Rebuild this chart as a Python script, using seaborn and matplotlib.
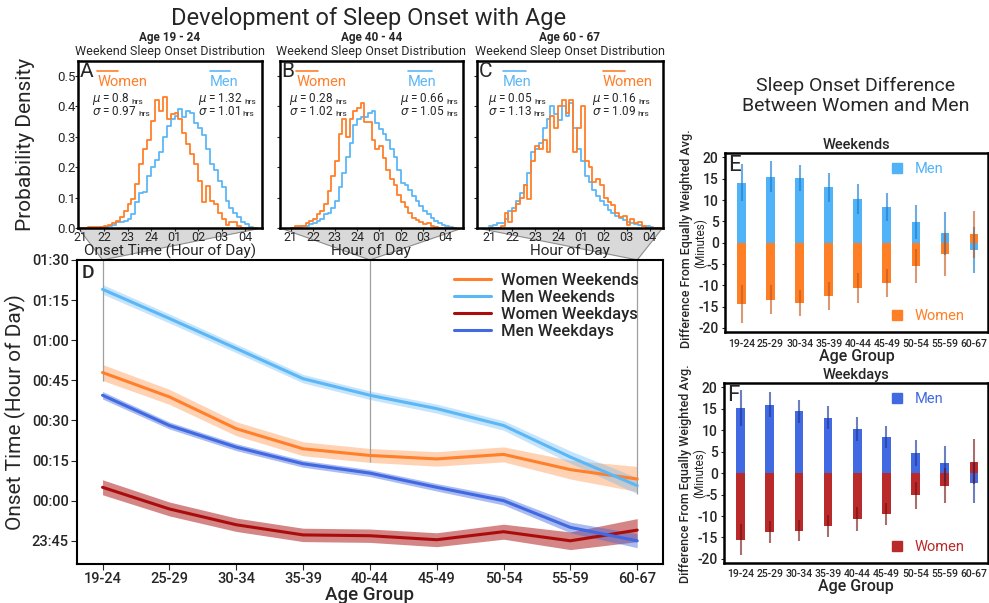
import numpy as np
import seaborn as sns
import matplotlib.pyplot as plt
from matplotlib.lines import Line2D
from matplotlib.patches import Polygon

sns.set_style("white")
plt.rcParams['font.family'] = ['Roboto', 'DejaVu Sans']
plt.rcParams['mathtext.fontset'] = 'dejavusans'

age_groups = ["19-24", "25-29", "30-34", "35-39", "40-44", "45-49", "50-54", "55-59", "60-67"]

# panel D: mean sleep onset (minutes after midnight) and CI half widths
women_weekends = [47.9, 38.8, 26.9, 19.4, 16.9, 15.6, 17.3, 11.6, 8.1]
men_weekends = [79.0, 68.1, 56.9, 45.6, 39.4, 34.4, 28.1, 16.3, 5.6]
women_weekdays = [5.0, -3.1, -9.0, -12.8, -13.1, -14.6, -11.6, -15.0, -11.0]
men_weekdays = [39.4, 28.1, 20.0, 13.8, 10.3, 5.0, 0.0, -10.0, -15.0]
women_weekends_ci = [3.0, 2.8, 2.6, 2.6, 2.6, 2.7, 2.8, 3.5, 4.7]
men_weekends_ci = [1.8, 1.7, 1.6, 1.6, 1.6, 1.7, 1.8, 2.3, 3.0]
women_weekdays_ci = [2.8, 2.6, 2.5, 2.5, 2.5, 2.6, 2.8, 3.3, 4.3]
men_weekdays_ci = [1.4, 1.3, 1.3, 1.3, 1.3, 1.4, 1.6, 2.0, 2.6]

# panels E/F: difference from equally weighted average (minutes)
men_diff_weekends = [14.1, 15.5, 15.2, 13.0, 10.2, 8.3, 4.8, 2.2, -1.7]
women_diff_weekends = [-14.4, -13.4, -14.1, -12.5, -10.7, -9.4, -5.4, -2.7, 2.0]
men_err_weekends = [4.4, 3.7, 3.1, 3.4, 3.5, 3.3, 4.0, 5.0, 5.5]
women_err_weekends = [4.4, 3.4, 3.1, 3.3, 3.5, 3.3, 4.0, 5.0, 5.5]
men_diff_weekdays = [15.2, 16.0, 14.4, 12.9, 10.3, 8.4, 4.7, 2.3, -2.3]
women_diff_weekdays = [-15.5, -13.7, -13.4, -12.3, -10.8, -9.5, -5.2, -2.9, 2.7]
men_err_weekdays = [4.2, 2.9, 2.6, 2.7, 2.9, 2.6, 3.1, 4.1, 4.7]
women_err_weekdays = [3.6, 2.5, 2.5, 2.6, 2.8, 2.6, 3.2, 4.1, 5.3]

# panels A-C: weekend onset densities, 10 minute bins from 21:00
women_19_24 = [0, 0, .002, .004, .003, .003, .005, .009, .015, .023,
               .037, .056, .078, .094, .144, .21, .26, .29, .353, .42,
               .386, .43, .36, .375, .38, .358, .314, .276, .243, .21,
               .155, .084, .138, .089, .078, .05, .03, .01, .018, .018,
               .006, 0, 0, 0, 0]
men_19_24 = [0, 0, 0, 0, .001, .002, .003, .005, .009, .018,
             .02, .023, .03, .045, .085, .115, .118, .17, .2, .224,
             .25, .3, .336, .36, .37, .39, .364, .386, .38, .347,
             .33, .305, .26, .21, .19, .155, .135, .09, .065, .05,
             .035, .018, .012, .004, 0]
women_40_44 = [0, .005, .006, .008, .015, .023, .03, .045, .055, .08,
               .12, .17, .22, .31, .36, .3, .36, .386, .395, .41,
               .35, .35, .29, .26, .27, .23, .19, .16, .14, .11,
               .085, .07, .05, .034, .025, .02, .012, .016, .008, .004,
               0, 0, 0, 0, 0]
men_40_44 = [0, 0, .002, .005, .008, .012, .016, .022, .03, .045,
             .05, .065, .09, .135, .18, .235, .28, .34, .36, .364,
             .364, .38, .386, .345, .325, .31, .29, .26, .235, .19,
             .148, .14, .125, .105, .089, .072, .056, .045, .034, .023,
             .016, .01, .006, .003, 0]
women_60_67 = [0, 0, 0, .005, .05, .02, .055, .08, .1, .14,
               .095, .22, .27, .26, .29, .25, .37, .33, .4, .42,
               .38, .42, .25, .33, .4, .22, .2, .15, .16, .14,
               .1, .085, .075, .05, .035, .04, .01, .03, .015, .018,
               .008, 0, 0, 0, 0]
men_60_67 = [.006, .01, .015, .015, .028, .055, .067, .09, .115, .14,
             .18, .25, .26, .28, .33, .36, .4, .375, .355, .4,
             .37, .41, .33, .26, .22, .17, .15, .125, .105, .09,
             .075, .06, .05, .04, .032, .025, .018, .015, .012, .01,
             .008, .005, .003, 0, 0]

hist_titles = ["Age 19 - 24", "Age 40 - 44", "Age 60 - 67"]
hist_group_idx = [0, 4, 8]
mu_women = [0.8, 0.28, 0.16]
sigma_women = [0.97, 1.02, 1.09]
mu_men = [1.32, 0.66, 0.05]
sigma_men = [1.01, 1.05, 1.13]

ORANGE = "#ff7f2a"
LIGHTBLUE = "#5cb7f7"
DARKRED = "#aa0c0c"
ROYAL = "#4169e1"

bin_edges = 21 + np.arange(len(women_19_24) + 1) / 6
bin_centers = (bin_edges[:-1] + bin_edges[1:]) / 2
hour_ticks = np.arange(21, 29)
hour_labels = [f"{h if h <= 24 else h - 24:02d}" for h in hour_ticks]

fig = plt.figure(figsize=(9.89, 6.03), dpi=100)

fig.text(0.373, 0.970, "Development of Sleep Onset with Age", ha="center", va="center", fontsize=17)
fig.text(0.865, 0.841, "Sleep Onset Difference\nBetween Women and Men", ha="center", va="center",
         fontsize=14, linespacing=1.15)
fig.text(0.026, 0.76, "Probability Density", rotation=90, ha="center", va="center", fontsize=15)

# ---- D: main line plot
axD = fig.add_axes([0.078, 0.065, 0.592, 0.504])
x = np.arange(len(age_groups))
series = [("Women Weekends", women_weekends, women_weekends_ci, ORANGE, 0.35),
          ("Men Weekends", men_weekends, men_weekends_ci, LIGHTBLUE, 0.35),
          ("Women Weekdays", women_weekdays, women_weekdays_ci, DARKRED, 0.5),
          ("Men Weekdays", men_weekdays, men_weekdays_ci, ROYAL, 0.45)]
for label, vals, ci, col, a in series:
    vals = np.array(vals)
    ci = np.array(ci)
    axD.fill_between(x, vals - ci, vals + ci, color=col, alpha=a, linewidth=0)
    sns.lineplot(x=x, y=vals, color=col, linewidth=2.2, label=label, ax=axD)

ytop = 90
axD.set_xlim(-0.38, 8.38)
axD.set_ylim(-23.6, ytop)
yt = np.arange(-15, 91, 15)
axD.set_yticks(yt)
axD.set_yticklabels([f"{(m % 1440) // 60:02d}:{m % 60:02d}" for m in yt], fontsize=10.5, fontweight="medium")
axD.set_xticks(x)
axD.set_xticklabels(age_groups, fontsize=10.5, fontweight="medium")
axD.tick_params(bottom=True, left=True, length=4, width=0.8, pad=2)
axD.set_xlabel("Age Group", fontsize=13.5, fontweight="medium", labelpad=0)
axD.set_ylabel("Onset Time (Hour of Day)", fontsize=15, labelpad=4)
for s in axD.spines.values():
    s.set_color("black")
    s.set_linewidth(1.5)
axD.text(0.008, 0.985, "D", transform=axD.transAxes, ha="left", va="top", fontsize=14, fontweight="medium")
axD.legend(loc="upper left", bbox_to_anchor=(0.63, 0.985), frameon=False,
           prop={"size": 12, "weight": "medium"},
           handlelength=2.2, handletextpad=0.6, labelspacing=0.12, borderpad=0)

# guide lines down to the lower weekend band
we_low = np.minimum(np.array(women_weekends) - np.array(women_weekends_ci),
                    np.array(men_weekends) - np.array(men_weekends_ci))
for gi in hist_group_idx:
    axD.vlines(gi, we_low[gi], ytop, color="#a0a0a0", linewidth=0.9, zorder=1)

# ---- A, B, C: histograms
hist_boxes = [[0.079, 0.622, 0.186, 0.277], [0.283, 0.622, 0.185, 0.277], [0.482, 0.622, 0.188, 0.277]]
hist_xlims = [(20.9, 28.72), (20.5, 28.8), (20.45, 28.57)]
hist_xlabels = ["Onset Time (Hour of Day)", "Hour of Day", "Hour of Day"]
hist_women = [women_19_24, women_40_44, women_60_67]
hist_men = [men_19_24, men_40_44, men_60_67]
left_is_women = [True, True, False]
line_x = [((0.103, 0.217), (0.717, 0.826)), ((0.09, 0.21), (0.70, 0.83)), ((0.14, 0.265), (0.677, 0.796))]
stat_x = [(0.074, 0.652), (0.05, 0.656), (0.06, 0.618)]


def stat_text(ax, xpos, ypos, sym, val):
    t = ax.text(xpos, ypos, rf"${sym}$ = {val}", transform=ax.transAxes, fontsize=8.5, va="center")
    ax.annotate("hrs", xy=(1, 0.1), xycoords=t, xytext=(1.5, 0), textcoords="offset points",
                fontsize=6, va="bottom")


for i, letter in enumerate("ABC"):
    ax = fig.add_axes(hist_boxes[i])
    sns.histplot(x=bin_centers, weights=np.array(hist_men[i]), bins=list(bin_edges), element="step",
                 fill=False, color=LIGHTBLUE, linewidth=1.3, ax=ax)
    sns.histplot(x=bin_centers, weights=np.array(hist_women[i]), bins=list(bin_edges), element="step",
                 fill=False, color=ORANGE, linewidth=1.3, ax=ax)
    ax.set_xlim(*hist_xlims[i])
    ax.set_ylim(0, 0.55)
    ax.set_xticks(hour_ticks)
    ax.set_xticklabels(hour_labels, fontsize=9)
    ax.set_yticks(np.arange(0, 0.51, 0.1))
    if i == 0:
        ax.set_yticklabels([f"{v:.1f}" for v in np.arange(0, 0.51, 0.1)], fontsize=9.5)
    else:
        ax.set_yticklabels([])
    ax.tick_params(bottom=True, left=True, length=2, width=0.8, pad=0)
    ax.set_ylabel("")
    ax.set_xlabel(hist_xlabels[i], fontsize=11, labelpad=0)
    for s in ax.spines.values():
        s.set_color("black")
        s.set_linewidth(1.8)
    ax.text(0.5, 1.138, hist_titles[i], transform=ax.transAxes, ha="center", va="center",
            fontsize=8.5, fontweight="bold")
    ax.text(0.5, 1.054, "Weekend Sleep Onset Distribution", transform=ax.transAxes, ha="center",
            va="center", fontsize=9)
    ax.text(0.01, 0.995, letter, transform=ax.transAxes, ha="left", va="top", fontsize=15)

    groups = [("Women", ORANGE, mu_women[i], sigma_women[i]), ("Men", LIGHTBLUE, mu_men[i], sigma_men[i])]
    if not left_is_women[i]:
        groups = groups[::-1]
    for side, (name, col, mu, sg) in enumerate(groups):
        x0, x1 = line_x[i][side]
        ax.plot([x0, x1], [0.942, 0.942], color=col, linewidth=1.2, transform=ax.transAxes)
        ax.text(x0, 0.876, name, color=col, transform=ax.transAxes, fontsize=10.5, va="center")
        stat_text(ax, stat_x[i][side], 0.772, r"\mu", mu)
        stat_text(ax, stat_x[i][side], 0.695, r"\sigma", sg)

    # grey wedge from the histogram to its age group in D
    inv = fig.transFigure.inverted()
    bl = inv.transform(ax.transAxes.transform((0, 0)))
    br = inv.transform(ax.transAxes.transform((1, 0)))
    apex = inv.transform(axD.transData.transform((hist_group_idx[i], ytop)))
    fig.patches.append(Polygon([bl, br, apex], closed=True, transform=fig.transFigure,
                               facecolor="#d9d9d9", edgecolor="#8c8c8c", linewidth=0.8, zorder=-1))

# ---- E, F: bar plots
bar_panels = [
    ("E", "Weekends", [0.733, 0.449, 0.266, 0.297], men_diff_weekends, women_diff_weekends,
     men_err_weekends, women_err_weekends, "#50b2f7", "#ff7f27", "#1f7fd0", "#c0561a", 0.52),
    ("F", "Weekdays", [0.732, 0.066, 0.267, 0.2985], men_diff_weekdays, women_diff_weekdays,
     men_err_weekdays, women_err_weekdays, ROYAL, "#bb2a2a", "#1f3a9a", "#6e1010", 0.5),
]
for letter, title, box, men_v, women_v, men_e, women_e, mcol, wcol, mecol, wecol, ylab_y in bar_panels:
    ax = fig.add_axes(box)
    sns.barplot(x=age_groups, y=men_v, color=mcol, width=0.3, saturation=1, errorbar=None,
                linewidth=0, ax=ax)
    sns.barplot(x=age_groups, y=women_v, color=wcol, width=0.3, saturation=1, errorbar=None,
                linewidth=0, ax=ax)
    xb = np.arange(len(age_groups))
    ax.errorbar(xb, men_v, yerr=men_e, fmt="none", ecolor=mecol, elinewidth=1.5, alpha=0.65)
    ax.errorbar(xb, women_v, yerr=women_e, fmt="none", ecolor=wecol, elinewidth=1.5, alpha=0.6)
    ax.set_xlim(-0.57, 8.48)
    ax.set_ylim(-21, 21)
    ax.set_yticks(np.arange(-20, 21, 5))
    ax.set_yticklabels([str(v) for v in np.arange(-20, 21, 5)], fontsize=10, fontweight="medium")
    ax.set_xticks(xb)
    ax.set_xticklabels(age_groups, fontsize=7.5, fontweight="medium")
    ax.tick_params(bottom=False, left=True, length=2.5, width=0.8, pad=2)
    ax.set_xlabel("Age Group", fontsize=11.5, fontweight="medium", labelpad=0)
    ax.set_ylabel("")
    ax.text(-0.146, ylab_y, "Difference From Equally Weighted Avg.", transform=ax.transAxes,
            rotation=90, ha="center", va="center", fontsize=9, fontweight="medium")
    ax.text(-0.093, 0.5, "(Minutes)", transform=ax.transAxes, rotation=90, ha="center", va="center",
            fontsize=8.5)
    ax.set_title(title, fontsize=10.5, fontweight="medium", pad=3)
    for s in ax.spines.values():
        s.set_color("black")
        s.set_linewidth(1.8)
    ax.text(0.012, 0.99, letter, transform=ax.transAxes, ha="left", va="top", fontsize=16)
    leg_m = ax.legend([Line2D([], [], marker="s", color=mcol, linestyle="none", markersize=7)], ["Men"],
                      loc="upper left", bbox_to_anchor=(0.6, 0.99), frameon=False, fontsize=10.5,
                      handlelength=1, handletextpad=0.7, borderpad=0, labelcolor=mcol)
    ax.add_artist(leg_m)
    ax.legend([Line2D([], [], marker="s", color=wcol, linestyle="none", markersize=7)], ["Women"],
              loc="lower left", bbox_to_anchor=(0.6, 0.01), frameon=False, fontsize=10.5,
              handlelength=1, handletextpad=0.7, borderpad=0, labelcolor=wcol)

fig.savefig("out.png", dpi=100)
